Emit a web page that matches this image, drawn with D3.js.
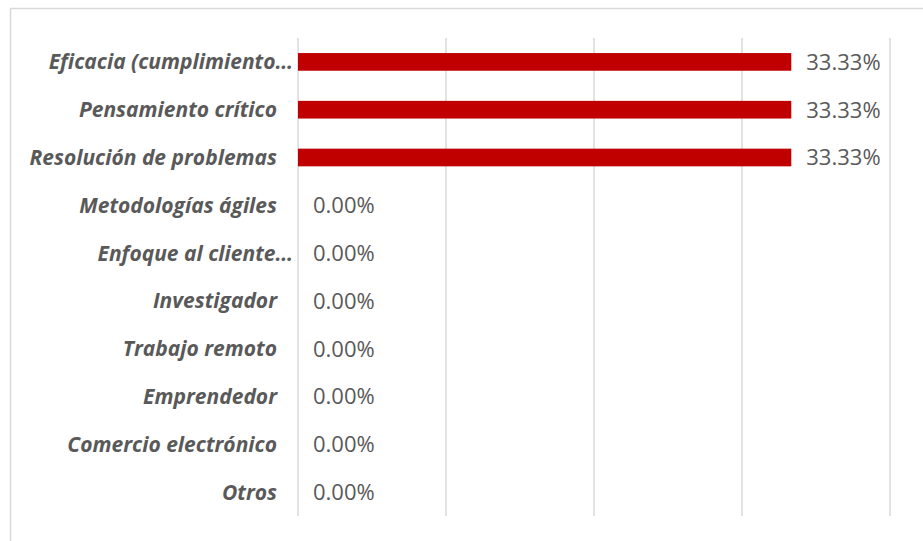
<!DOCTYPE html>
<html lang="es">
<head>
<meta charset="utf-8">
<title>Competencias</title>
<script src="https://cdn.jsdelivr.net/npm/d3@7"></script>
<style>
  body { margin: 0; background: #fff; }
  text { font-family: "Open Sans", Lato, sans-serif; }
</style>
</head>
<body>
<script>
var categories = ["Eficacia (cumplimiento…", "Pensamiento crítico", "Resolución de problemas",
  "Metodologías ágiles", "Enfoque al cliente…", "Investigador", "Trabajo remoto",
  "Emprendedor", "Comercio electrónico", "Otros"];
var values = [33.33, 33.33, 33.33, 0, 0, 0, 0, 0, 0, 0];
var xTicks = [0, 10, 20, 30, 40];

var w = 923, h = 541;
var plotLeft = 298, plotRight = 890, plotTop = 38, plotBottom = 516;

var svg = d3.select("body").append("svg")
  .attr("width", w)
  .attr("height", h);

// chart border
svg.append("rect")
  .attr("x", 10.5).attr("y", 8.5)
  .attr("width", w + 20).attr("height", h + 20)
  .attr("fill", "none")
  .attr("stroke", "#d9d9d9")
  .attr("stroke-width", 1.5);

var x = d3.scaleLinear().domain([0, 40]).range([plotLeft, plotRight]);
var y = d3.scaleBand().domain(categories).range([plotTop, plotBottom]).paddingInner(0.63).paddingOuter(0.315);

// gridlines
svg.selectAll("line.grid")
  .data(xTicks)
  .enter()
  .append("line")
  .attr("class", "grid")
  .attr("x1", function (d) { return x(d); })
  .attr("x2", function (d) { return x(d); })
  .attr("y1", plotTop)
  .attr("y2", plotBottom)
  .attr("stroke", "#d9d9d9")
  .attr("stroke-width", 1.5);

// bars
svg.selectAll("rect.bar")
  .data(values)
  .enter()
  .append("rect")
  .attr("class", "bar")
  .attr("x", x(0))
  .attr("y", function (d, i) { return y(categories[i]); })
  .attr("width", function (d) { return x(d) - x(0); })
  .attr("height", y.bandwidth())
  .attr("fill", "#c00000");

// category labels
svg.selectAll("text.cat")
  .data(categories)
  .enter()
  .append("text")
  .attr("class", "cat")
  .text(function (d) { return d; })
  .attr("text-anchor", "end")
  .attr("x", function (d) { return d.slice(-1) === "…" ? plotLeft - 5 : plotLeft - 21; })
  .attr("y", function (d) { return y(d) + y.bandwidth() / 2; })
  .attr("dy", "0.36em")
  .attr("font-size", "21px")
  .attr("font-weight", "bold")
  .attr("font-style", "italic")
  .attr("fill", "#595959");

// value labels
svg.selectAll("text.val")
  .data(values)
  .enter()
  .append("text")
  .attr("class", "val")
  .text(function (d) { return d.toFixed(2) + "%"; })
  .attr("x", function (d) { return x(d) + 15; })
  .attr("y", function (d, i) { return y(categories[i]) + y.bandwidth() / 2; })
  .attr("dy", "0.36em")
  .attr("font-size", "22px")
  .attr("fill", "#595959");
</script>
</body>
</html>
